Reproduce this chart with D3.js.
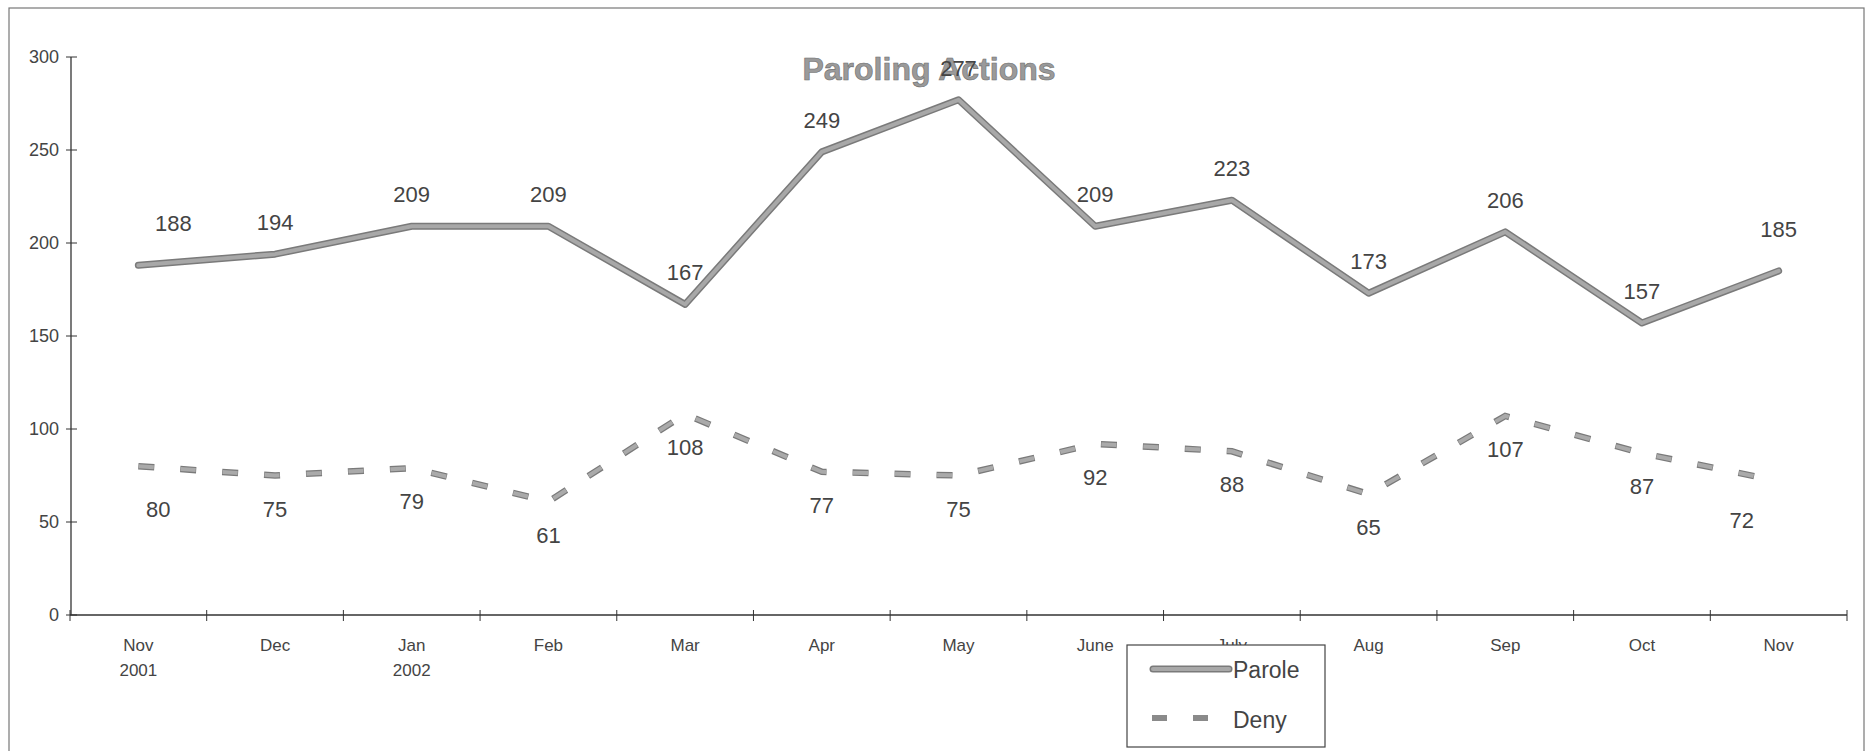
<!DOCTYPE html>
<html>
<head>
<meta charset="utf-8">
<script src="https://cdn.jsdelivr.net/npm/d3@7"></script>
<style>
  body { margin: 0; background: #fff; }
  text { font-family: "Liberation Sans", Arial, sans-serif; }
</style>
</head>
<body>
<script>
// chart data
var months = ["Nov", "Dec", "Jan", "Feb", "Mar", "Apr", "May", "June", "July", "Aug", "Sep", "Oct", "Nov"];
var years = ["2001", "", "2002", "", "", "", "", "", "", "", "", "", ""];
var parole = [188, 194, 209, 209, 167, 249, 277, 209, 223, 173, 206, 157, 185];
var deny = [80, 75, 79, 61, 108, 77, 75, 92, 88, 65, 107, 87, 72];
var yTicks = [0, 50, 100, 150, 200, 250, 300];

var width = 1868;
var height = 751;

var svg = d3.select("body").append("svg")
    .attr("width", width)
    .attr("height", height);

// outer frame of the chart area (bottom edge runs off the page)
svg.append("rect")
    .attr("x", 9).attr("y", 8)
    .attr("width", 1855).attr("height", 760)
    .attr("fill", "none")
    .attr("stroke", "#777")
    .attr("stroke-width", 1.2);

var x = d3.scaleBand()
    .domain(d3.range(months.length))
    .range([70, 1847]);

var y = d3.scaleLinear()
    .domain([0, 300])
    .range([615, 57]);

function cx(i) { return x(i) + x.bandwidth() / 2; }

// y axis with cross ticks
var yAxis = svg.append("g").attr("class", "y-axis");
yAxis.append("line")
    .attr("x1", 71).attr("x2", 71)
    .attr("y1", y(300)).attr("y2", y(0))
    .attr("stroke", "#333").attr("stroke-width", 1.3);
yAxis.selectAll(".tick")
    .data(yTicks)
    .enter().append("line")
    .attr("x1", 66).attr("x2", 77)
    .attr("y1", function(d) { return y(d); })
    .attr("y2", function(d) { return y(d); })
    .attr("stroke", "#333");
yAxis.selectAll(".lbl")
    .data(yTicks)
    .enter().append("text")
    .attr("x", 59)
    .attr("y", function(d) { return y(d) + 6; })
    .attr("text-anchor", "end")
    .attr("font-size", 18)
    .attr("fill", "#444")
    .text(function(d) { return d; });

// x axis, ticks at band edges
var xAxis = svg.append("g").attr("class", "x-axis");
xAxis.append("line")
    .attr("x1", 70).attr("x2", 1847)
    .attr("y1", y(0)).attr("y2", y(0))
    .attr("stroke", "#333").attr("stroke-width", 1.3);
var edges = d3.range(months.length + 1).map(function(i) { return 70 + i * x.step(); });
xAxis.selectAll(".tick")
    .data(edges)
    .enter().append("line")
    .attr("x1", function(d) { return d; })
    .attr("x2", function(d) { return d; })
    .attr("y1", y(0) - 5).attr("y2", y(0) + 6)
    .attr("stroke", "#333");
xAxis.selectAll(".month")
    .data(months)
    .enter().append("text")
    .attr("x", function(d, i) { return cx(i); })
    .attr("y", 651)
    .attr("text-anchor", "middle")
    .attr("font-size", 17)
    .attr("fill", "#444")
    .text(function(d) { return d; });
xAxis.selectAll(".year")
    .data(years)
    .enter().append("text")
    .attr("x", function(d, i) { return cx(i); })
    .attr("y", 676)
    .attr("text-anchor", "middle")
    .attr("font-size", 17)
    .attr("fill", "#444")
    .text(function(d) { return d; });

// title
svg.append("text")
    .attr("x", 929)
    .attr("y", 80)
    .attr("text-anchor", "middle")
    .attr("font-size", 32)
    .attr("font-weight", "bold")
    .attr("fill", "#9a9a9a")
    .attr("stroke", "#6e6e6e")
    .attr("stroke-width", 0.6)
    .text("Paroling Actions");

var line = d3.line()
    .x(function(d, i) { return cx(i); })
    .y(function(d) { return y(d); });

// Parole: thick solid grey line with a darker rim
svg.append("path")
    .attr("d", line(parole))
    .attr("fill", "none")
    .attr("stroke", "#7a7a7a")
    .attr("stroke-width", 7)
    .attr("stroke-linejoin", "round")
    .attr("stroke-linecap", "round");
svg.append("path")
    .attr("d", line(parole))
    .attr("fill", "none")
    .attr("stroke", "#a8a8a8")
    .attr("stroke-width", 4)
    .attr("stroke-linejoin", "round")
    .attr("stroke-linecap", "round");

// Deny: dashed grey line
svg.append("path")
    .attr("d", line(deny))
    .attr("fill", "none")
    .attr("stroke", "#7a7a7a")
    .attr("stroke-width", 6.5)
    .attr("stroke-dasharray", "16,26");
svg.append("path")
    .attr("d", line(deny))
    .attr("fill", "none")
    .attr("stroke", "#aaa")
    .attr("stroke-width", 4)
    .attr("stroke-dasharray", "15,27")
    .attr("stroke-dashoffset", -0.5);

// data labels
var last = months.length - 1;
svg.selectAll(".plbl")
    .data(parole)
    .enter().append("text")
    .attr("x", function(d, i) { return cx(i) + (i === 0 ? 35 : 0); })
    .attr("y", function(d, i) { return y(d) - ((i === 0 || i === last) ? 42 : 32) + 8; })
    .attr("text-anchor", "middle")
    .attr("font-size", 22)
    .attr("fill", "#444")
    .text(function(d) { return d; });

svg.selectAll(".dlbl")
    .data(deny)
    .enter().append("text")
    .attr("x", function(d, i) { return cx(i) + (i === 0 ? 20 : (i === last ? -37 : 0)); })
    .attr("y", function(d, i) { return y(d) + (i === 0 ? 43 : (i === last ? 39 : 33)) + 8; })
    .attr("text-anchor", "middle")
    .attr("font-size", 22)
    .attr("fill", "#444")
    .text(function(d) { return d; });

// legend box (covers the July label, as in the original)
var legend = svg.append("g").attr("class", "legend");
legend.append("rect")
    .attr("x", 1127).attr("y", 645)
    .attr("width", 198).attr("height", 102)
    .attr("fill", "#fff")
    .attr("stroke", "#444")
    .attr("stroke-width", 1.2);
legend.append("line")
    .attr("x1", 1153).attr("x2", 1229)
    .attr("y1", 669).attr("y2", 669)
    .attr("stroke", "#7a7a7a").attr("stroke-width", 7)
    .attr("stroke-linecap", "round");
legend.append("line")
    .attr("x1", 1153).attr("x2", 1229)
    .attr("y1", 669).attr("y2", 669)
    .attr("stroke", "#a8a8a8").attr("stroke-width", 4)
    .attr("stroke-linecap", "round");
legend.append("text")
    .attr("x", 1233).attr("y", 678)
    .attr("font-size", 23)
    .attr("fill", "#444")
    .text("Parole");
legend.append("line")
    .attr("x1", 1152).attr("x2", 1210)
    .attr("y1", 718).attr("y2", 718)
    .attr("stroke", "#8a8a8a").attr("stroke-width", 6)
    .attr("stroke-dasharray", "15,26");
legend.append("text")
    .attr("x", 1233).attr("y", 728)
    .attr("font-size", 23)
    .attr("fill", "#444")
    .text("Deny");
</script>
</body>
</html>
